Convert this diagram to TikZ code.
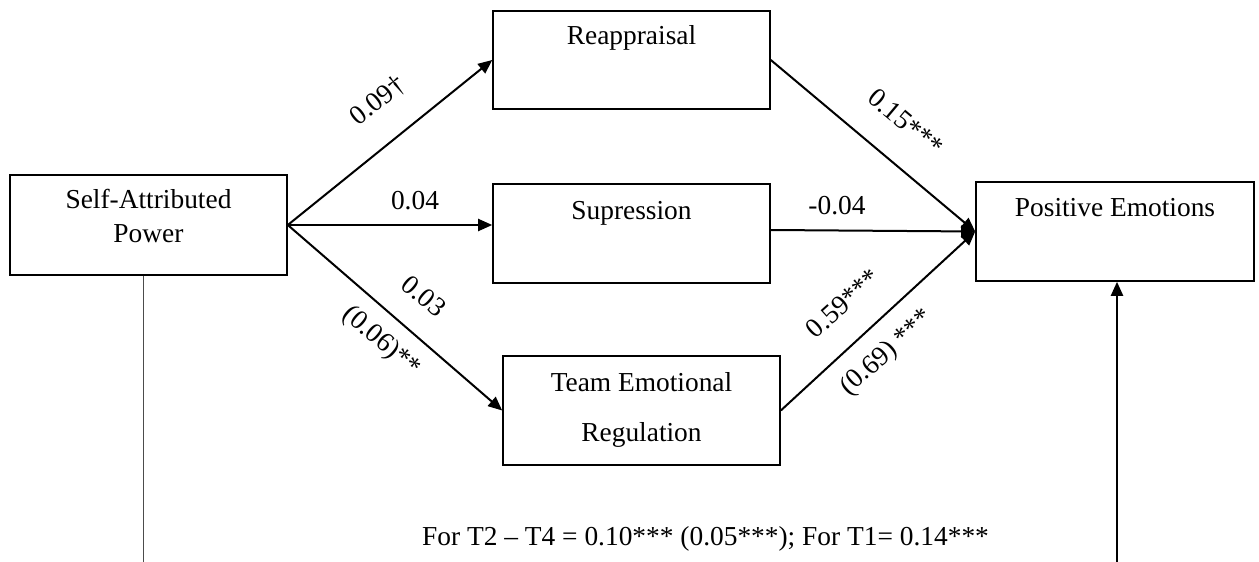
\documentclass[tikz,border=0pt]{standalone}
\usepackage{fontspec}
\setmainfont{Liberation Serif}
\usetikzlibrary{arrows.meta}
\begin{document}
\begin{tikzpicture}[x=1pt,y=-1pt,
  every node/.style={font=\fontsize{27.4pt}{33pt}\selectfont, inner sep=0pt},
  box/.style={draw, line width=1.6pt, rectangle, minimum width=277pt},
  txt/.style={anchor=base},
  arr/.style={line width=2pt, -{Triangle[length=14pt,width=12pt]}},
  thinline/.style={line width=1pt, draw=black!70}]
\useasboundingbox (0,0) rectangle (1259,562);
% boxes
\node[box, minimum height=100pt] (sap) at (148.5,225) {};
\node[box, minimum height=98pt] (reap) at (631.5,60) {};
\node[box, minimum height=99pt] (sup) at (631.5,233.5) {};
\node[box, minimum height=109pt] (ter) at (641.5,410.5) {};
\node[box, minimum width=278pt, minimum height=99pt] (pe) at (1115,231.5) {};
% box texts
\node[txt] (sapA) at (148.5,208) {Self-Attributed};
\node[txt] (sapB) at (148.5,242) {Power};
\node[txt] (reapT) at (631.5,45) {Reappraisal};
\node[txt] (supT) at (631.5,219) {Supression};
\node[txt] (terA) at (641.5,391) {Team Emotional};
\node[txt] (terB) at (641.5,441) {Regulation};
\node[txt] (peT) at (1115,216) {Positive Emotions};
% free ends
\coordinate (lbot) at (143,562);
\coordinate (rbot) at (1117,562);
% connectors
\draw[arr] (sap.east) -- (reap.west);
\draw[arr] (sap.east) -- (sap.east -| sup.west);
\draw[arr] (sap.east) -- (ter.west);
\draw[arr] (reap.east) -- (pe.west);
\draw[arr] ([yshift=3.5pt]sup.east) -- (pe.west);
\draw[arr] (ter.east) -- (pe.west);
\draw[thinline] (sap.south -| lbot) -- (lbot);
\draw[arr, line width=2.3pt] (rbot) -- (rbot |- pe.south);
% labels
\node[rotate=38.7] (l1) at (378,101) {0.09†};
\node (l2) at (415,201) {0.04};
\node[rotate=-40.6] (l3) at (424,296) {0.03};
\node[rotate=-40.6] (l4) at (381,342) {(0.06)**};
\node[rotate=-40] (l5) at (906,122) {0.15***};
\node (l6) at (837,206) {-0.04};
\node[rotate=42] (l7) at (843,303) {0.59***};
\node[rotate=42] (l8) at (887,353) {(0.69) ***};
\node[anchor=base west] (note) at (422,545) {For T2 – T4 = 0.10*** (0.05***); For T1= 0.14***};
\end{tikzpicture}
\end{document}
